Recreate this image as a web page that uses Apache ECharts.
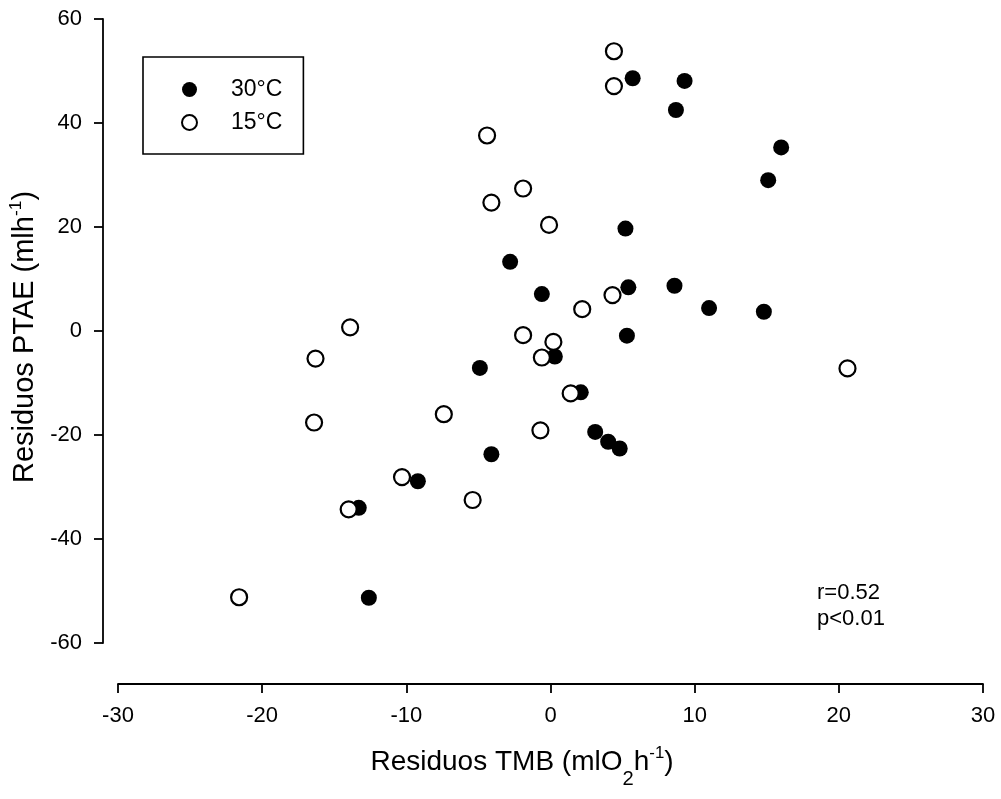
<!DOCTYPE html>
<html>
<head>
<meta charset="utf-8">
<script src="https://cdn.jsdelivr.net/npm/echarts@6/dist/echarts.min.js"></script>
<style>
  html, body { margin: 0; padding: 0; background: #fff; }
  #chart { width: 1001px; height: 799px; }
</style>
</head>
<body>
<div id="chart"></div>
<script>
// residuals, [TMB, PTAE]
const warmPoints = [
  [5.7, 48.6], [9.3, 48.1], [8.7, 42.5], [16.0, 35.3], [15.1, 29.0],
  [5.2, 19.7], [-2.8, 13.3], [-0.6, 7.1], [5.4, 8.4], [8.6, 8.7],
  [11.0, 4.4], [14.8, 3.7], [5.3, -0.9], [0.3, -4.9], [-4.9, -7.1],
  [2.1, -11.8], [3.1, -19.4], [4.0, -21.3], [4.8, -22.6], [-4.1, -23.7],
  [-9.2, -28.9], [-13.3, -34.0], [-12.6, -51.3]
];
const coldPoints = [
  [4.4, 53.8], [4.4, 47.1], [-4.4, 37.6], [-1.9, 27.4], [-4.1, 24.7],
  [-0.1, 20.4], [4.3, 6.9], [2.2, 4.2], [-1.9, -0.8], [0.2, -2.1],
  [-0.6, -5.1], [1.4, -12.0], [-0.7, -19.1], [20.6, -7.2], [-5.4, -32.5],
  [-13.9, 0.7], [-16.3, -5.3], [-16.4, -17.6], [-7.4, -16.0], [-10.3, -28.1],
  [-14.0, -34.3], [-21.6, -51.2]
];
const seriesNames = ['30°C', '15°C'];
const statsText = ['r=0.52', 'p<0.01'];

const FONT = '"Liberation Sans", Arial, sans-serif';
const axisLine = { lineStyle: { color: '#000', width: 1.8 } };

// sub/superscript pieces for axis titles
function titleRich(size) {
  const base = { verticalAlign: 'top', fontFamily: FONT, color: '#000' };
  return {
    m: Object.assign({ fontSize: size, lineHeight: size, padding: [8, 0, 0, 0] }, base),
    sub: Object.assign({ fontSize: size * 0.72, lineHeight: size * 0.72, padding: [size + 1, 0, 0, 0] }, base),
    sup: Object.assign({ fontSize: size * 0.6, lineHeight: size * 0.6, padding: [5, 0, 0, 0] }, base)
  };
}

const chart = echarts.init(document.getElementById('chart'));
chart.setOption({
  animation: false,
  backgroundColor: '#fff',
  grid: { left: 118, right: 18, top: 19, bottom: 156, outerBoundsMode: 'none', containLabel: false },
  legend: {
    orient: 'vertical',
    left: 143,
    top: 57,
    padding: [21, 21, 20, 38],
    borderColor: '#000',
    borderWidth: 1.6,
    borderRadius: 0,
    itemWidth: 15,
    itemHeight: 15,
    itemGap: 10,
    textStyle: { fontSize: 23, lineHeight: 22, fontFamily: FONT, color: '#000', padding: [0, 0, 0, 29] },
    data: seriesNames
  },
  xAxis: {
    type: 'value',
    min: -30,
    max: 30,
    interval: 10,
    offset: 41,
    axisLine: Object.assign({ onZero: false }, axisLine),
    axisTick: { length: 9, lineStyle: { color: '#000', width: 1.8 } },
    axisLabel: { margin: 21, fontSize: 22, fontFamily: FONT, color: '#000' },
    splitLine: { show: false },
    name: '{m|Residuos TMB (mlO}{sub|2}{m|h}{sup|-1}{m|)}',
    nameLocation: 'middle',
    nameGap: 56,
    nameTextStyle: { padding: [0, 57, 0, 0], rich: titleRich(28) }
  },
  yAxis: {
    type: 'value',
    min: -60,
    max: 60,
    interval: 20,
    offset: 15,
    axisLine: Object.assign({ onZero: false }, axisLine),
    axisTick: { length: 9, lineStyle: { color: '#000', width: 1.8 } },
    axisLabel: { margin: 21, fontSize: 22, fontFamily: FONT, color: '#000' },
    splitLine: { show: false },
    name: '{m|Residuos PTAE (mlh}{sup|-1}{m|)}',
    nameLocation: 'middle',
    nameGap: 51,
    nameTextStyle: { padding: [0, 12, 0, 0], rich: titleRich(29) }
  },
  graphic: [{
    type: 'text',
    left: 817,
    top: 580,
    style: { text: statsText.join('\n'), font: '22px ' + FONT, lineHeight: 26, fill: '#000' }
  }],
  series: [
    {
      name: seriesNames[0],
      type: 'scatter',
      symbol: 'circle',
      symbolSize: 16,
      itemStyle: { color: '#000', opacity: 1 },
      data: warmPoints
    },
    {
      name: seriesNames[1],
      type: 'scatter',
      symbol: 'circle',
      symbolSize: 16,
      itemStyle: { color: '#fff', borderColor: '#000', borderWidth: 2.2, opacity: 1 },
      data: coldPoints
    }
  ]
});
</script>
</body>
</html>
